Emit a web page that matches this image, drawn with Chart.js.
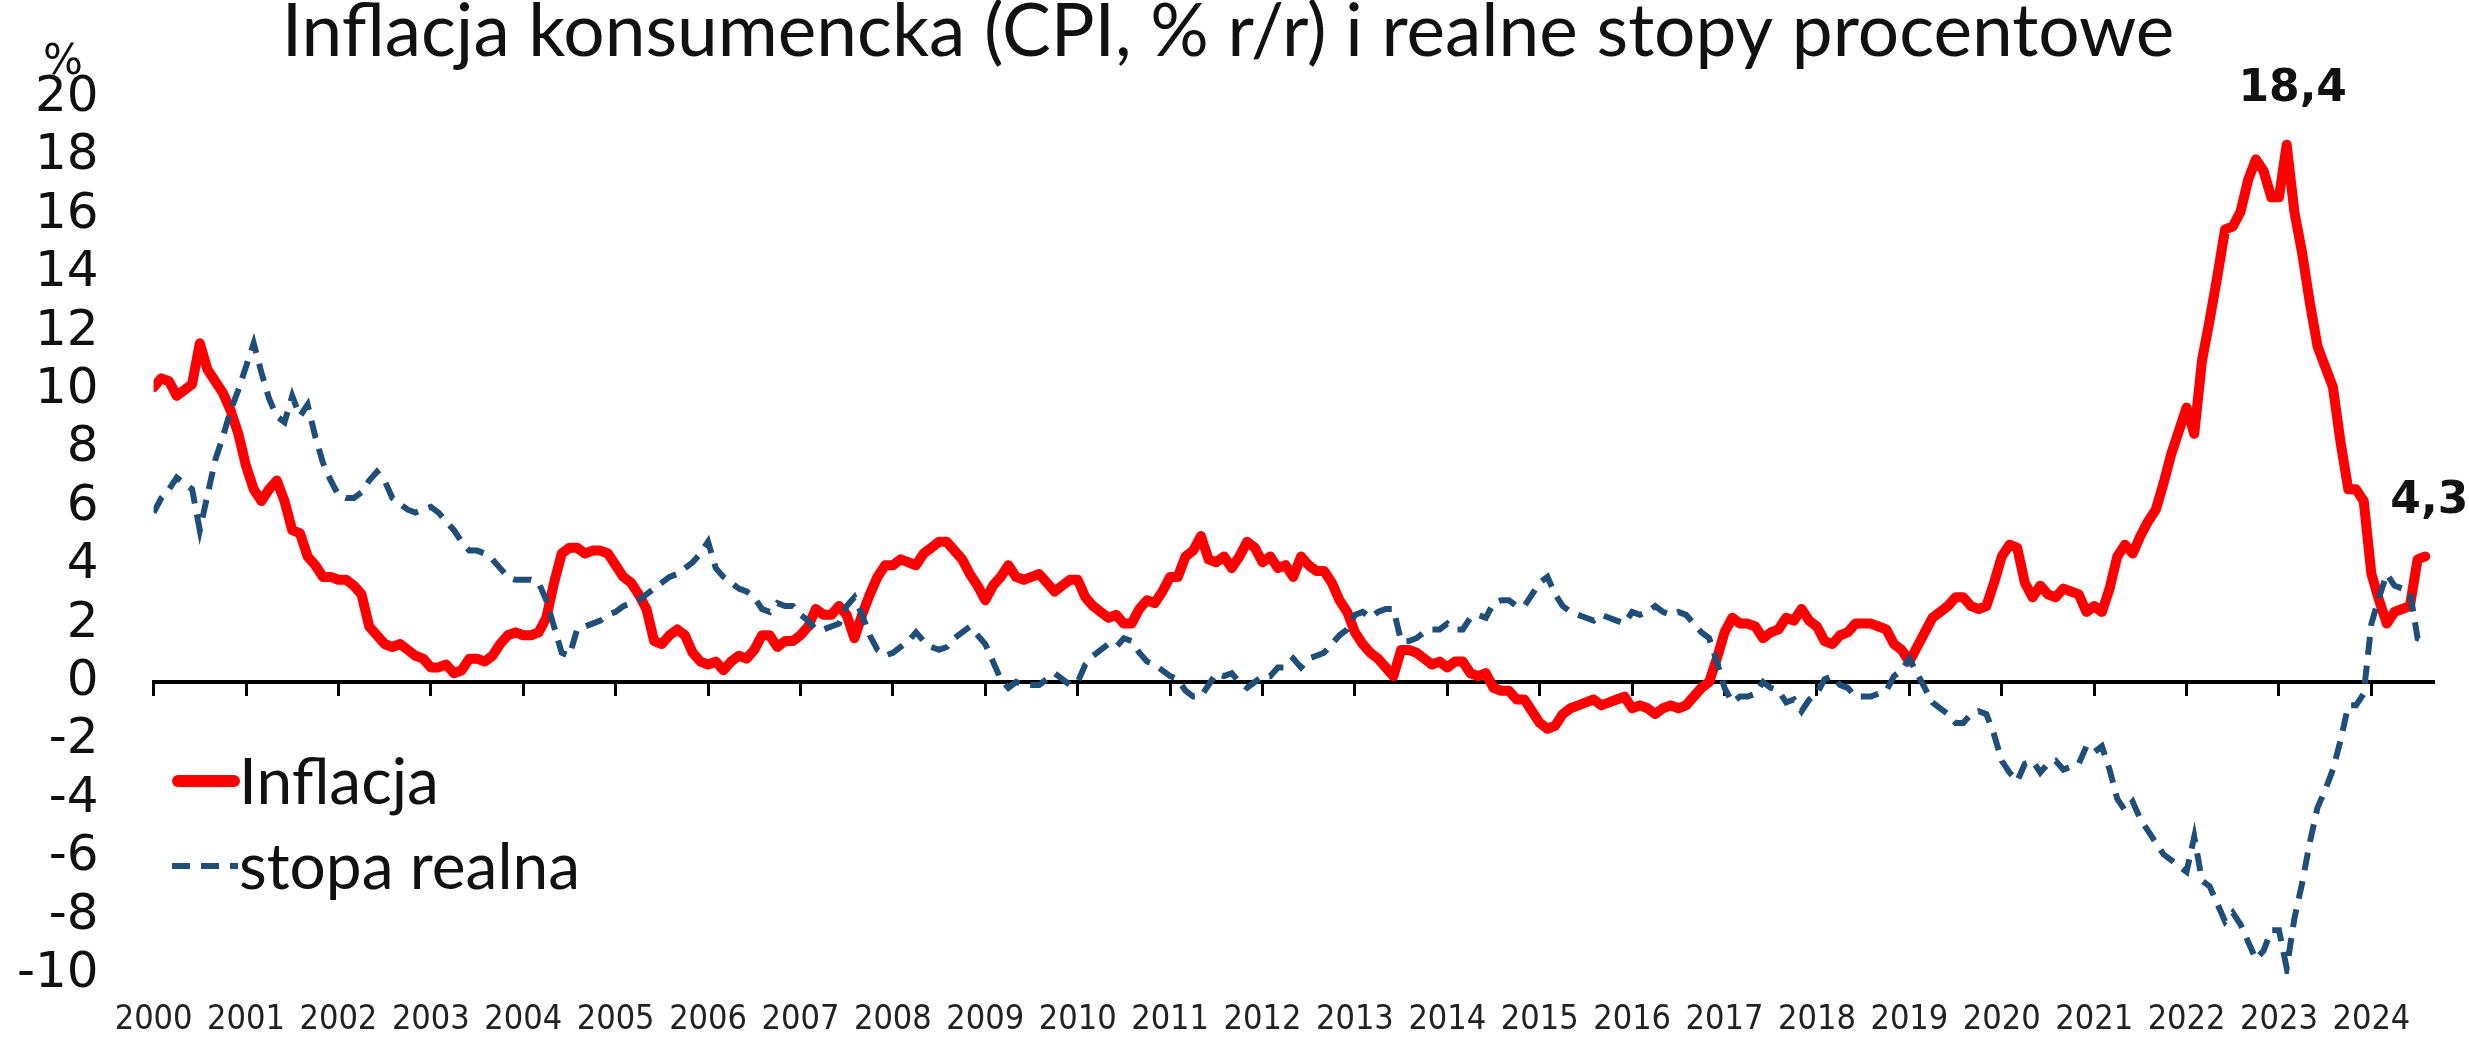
<!DOCTYPE html>
<html>
<head>
<meta charset="utf-8">
<script src="https://cdn.jsdelivr.net/npm/chart.js@4.4.1/dist/chart.umd.min.js"></script>
<style>
html,body{margin:0;padding:0;background:#fff;overflow:hidden}
canvas{display:block}
</style>
</head>
<body>
<canvas id="c" width="2469" height="1059"></canvas>
<script>
// ---------- texts ----------
const titleText = 'Inflacja konsumencka (CPI, % r/r) i realne stopy procentowe';
const unitLabel = '%';
const seriesNames = ['Inflacja', 'stopa realna'];

// ---------- categories (monthly, starting January 2000) ----------
const startYear = 2000;
const yearTicks = [2000, 2001, 2002, 2003, 2004, 2005, 2006, 2007, 2008, 2009, 2010, 2011, 2012,
                   2013, 2014, 2015, 2016, 2017, 2018, 2019, 2020, 2021, 2022, 2023, 2024];
const yTicks = [-10, -8, -6, -4, -2, 0, 2, 4, 6, 8, 10, 12, 14, 16, 18, 20];

// ---------- series: CPI y/y, % ----------
const cpi = [
  10.1, 10.4, 10.3, 9.8, 10.0, 10.2, 11.6, 10.7, 10.3, 9.9, 9.3, 8.5,   // 2000
  7.4, 6.6, 6.2, 6.6, 6.9, 6.2, 5.2, 5.1, 4.3, 4.0, 3.6, 3.6,           // 2001
  3.5, 3.5, 3.3, 3.0, 1.9, 1.6, 1.3, 1.2, 1.3, 1.1, 0.9, 0.8,           // 2002
  0.5, 0.5, 0.6, 0.3, 0.4, 0.8, 0.8, 0.7, 0.9, 1.3, 1.6, 1.7,           // 2003
  1.6, 1.6, 1.7, 2.2, 3.4, 4.4, 4.6, 4.6, 4.4, 4.5, 4.5, 4.4,           // 2004
  4.0, 3.6, 3.4, 3.0, 2.5, 1.4, 1.3, 1.6, 1.8, 1.6, 1.0, 0.7,           // 2005
  0.6, 0.7, 0.4, 0.7, 0.9, 0.8, 1.1, 1.6, 1.6, 1.2, 1.4, 1.4,           // 2006
  1.6, 1.9, 2.5, 2.3, 2.3, 2.6, 2.3, 1.5, 2.3, 3.0, 3.6, 4.0,           // 2007
  4.0, 4.2, 4.1, 4.0, 4.4, 4.6, 4.8, 4.8, 4.5, 4.2, 3.7, 3.3,           // 2008
  2.8, 3.3, 3.6, 4.0, 3.6, 3.5, 3.6, 3.7, 3.4, 3.1, 3.3, 3.5,           // 2009
  3.5, 2.9, 2.6, 2.4, 2.2, 2.3, 2.0, 2.0, 2.5, 2.8, 2.7, 3.1,           // 2010
  3.6, 3.6, 4.3, 4.5, 5.0, 4.2, 4.1, 4.3, 3.9, 4.3, 4.8, 4.6,           // 2011
  4.1, 4.3, 3.9, 4.0, 3.6, 4.3, 4.0, 3.8, 3.8, 3.4, 2.8, 2.4,           // 2012
  1.7, 1.3, 1.0, 0.8, 0.5, 0.2, 1.1, 1.1, 1.0, 0.8, 0.6, 0.7,           // 2013
  0.5, 0.7, 0.7, 0.3, 0.2, 0.3, -0.2, -0.3, -0.3, -0.6, -0.6, -1.0,     // 2014
  -1.4, -1.6, -1.5, -1.1, -0.9, -0.8, -0.7, -0.6, -0.8, -0.7, -0.6, -0.5, // 2015
  -0.9, -0.8, -0.9, -1.1, -0.9, -0.8, -0.9, -0.8, -0.5, -0.2, 0.0, 0.8, // 2016
  1.7, 2.2, 2.0, 2.0, 1.9, 1.5, 1.7, 1.8, 2.2, 2.1, 2.5, 2.1,           // 2017
  1.9, 1.4, 1.3, 1.6, 1.7, 2.0, 2.0, 2.0, 1.9, 1.8, 1.3, 1.1,           // 2018
  0.7, 1.2, 1.7, 2.2, 2.4, 2.6, 2.9, 2.9, 2.6, 2.5, 2.6, 3.4,           // 2019
  4.3, 4.7, 4.6, 3.4, 2.9, 3.3, 3.0, 2.9, 3.2, 3.1, 3.0, 2.4,           // 2020
  2.6, 2.4, 3.2, 4.3, 4.7, 4.4, 5.0, 5.5, 5.9, 6.8, 7.8, 8.6,           // 2021
  9.4, 8.5, 11.0, 12.4, 13.9, 15.5, 15.6, 16.1, 17.2, 17.9, 17.5, 16.6, // 2022
  16.6, 18.4, 16.1, 14.7, 13.0, 11.5, 10.8, 10.1, 8.2, 6.6, 6.6, 6.2,   // 2023
  3.7, 2.8, 2.0, 2.4, 2.5, 2.6, 4.2, 4.3                                // 2024
];

// ---------- series: real interest rate, % ----------
const realRate = [
  5.8, 6.3, 6.6, 7.0, 6.8, 6.6, 5.2, 6.4, 7.6, 8.4, 9.3, 10.0,          // 2000
  10.8, 11.6, 10.6, 9.7, 9.1, 8.9, 9.8, 9.1, 9.5, 8.4, 7.5, 6.9,        // 2001
  6.4, 6.3, 6.3, 6.5, 6.9, 7.2, 6.9, 6.3, 6.1, 5.9, 5.8, 5.9,           // 2002
  6.0, 5.8, 5.5, 5.2, 4.8, 4.5, 4.5, 4.4, 4.2, 3.9, 3.6, 3.5,           // 2003
  3.5, 3.5, 3.4, 2.8, 1.9, 1.0, 0.9, 1.8, 1.9, 2.0, 2.1, 2.3,           // 2004
  2.4, 2.6, 2.7, 2.8, 3.0, 3.2, 3.4, 3.6, 3.7, 3.9, 4.1, 4.4,           // 2005
  4.8, 3.9, 3.6, 3.4, 3.2, 3.1, 2.9, 2.5, 2.4, 2.7, 2.6, 2.6,           // 2006
  2.3, 2.1, 1.8, 1.8, 1.9, 2.0, 2.6, 2.9, 2.3, 1.6, 1.1, 0.9,           // 2007
  1.0, 1.2, 1.4, 1.7, 1.4, 1.2, 1.1, 1.2, 1.5, 1.7, 1.9, 1.6,           // 2008
  1.3, 0.7, 0.1, -0.2, 0.0, -0.1, -0.1, -0.1, 0.1, 0.3, 0.1, -0.1,      // 2009
  0.0, 0.6, 0.9, 1.1, 1.3, 1.2, 1.5, 1.4, 1.0, 0.7, 0.6, 0.4,           // 2010
  0.2, 0.1, -0.3, -0.5, -0.5, -0.1, 0.3, 0.2, 0.3, 0.0, -0.2, 0.0,      // 2011
  0.2, 0.2, 0.5, 0.5, 0.8, 0.5, 0.8, 0.9, 1.0, 1.3, 1.6, 1.8,           // 2012
  2.3, 2.4, 2.2, 2.4, 2.5, 2.5, 1.4, 1.4, 1.5, 1.7, 1.8, 1.8,           // 2013
  2.0, 1.8, 1.8, 2.2, 2.3, 2.2, 2.7, 2.8, 2.8, 2.6, 2.6, 3.0,           // 2014
  3.4, 3.6, 3.0, 2.6, 2.4, 2.3, 2.2, 2.1, 2.3, 2.2, 2.1, 2.0,           // 2015
  2.4, 2.3, 2.4, 2.6, 2.4, 2.3, 2.4, 2.3, 2.0, 1.7, 1.5, 0.7,           // 2016
  -0.2, -0.7, -0.5, -0.5, -0.4, 0.0, -0.2, -0.3, -0.7, -0.6, -1.0, -0.6, // 2017
  -0.4, 0.1, 0.2, -0.1, -0.2, -0.5, -0.5, -0.5, -0.4, -0.3, 0.2, 0.4,   // 2018
  0.8, 0.3, -0.2, -0.7, -0.9, -1.1, -1.4, -1.4, -1.1, -1.0, -1.1, -1.8, // 2019
  -2.7, -3.1, -3.4, -2.8, -2.7, -3.1, -2.8, -2.7, -3.0, -2.9, -2.8, -2.2, // 2020
  -2.4, -2.2, -3.0, -4.0, -4.4, -4.1, -4.7, -5.1, -5.5, -5.9, -6.1, -6.3, // 2021
  -6.5, -5.3, -6.8, -7.0, -7.6, -8.2, -7.9, -8.3, -8.9, -9.5, -9.2, -8.5, // 2022
  -8.5, -9.8, -8.1, -6.9, -5.5, -4.3, -3.7, -3.0, -2.0, -0.8, -0.8, -0.4, // 2023
  2.0, 2.9, 3.7, 3.3, 3.2, 3.1, 1.5, 1.4                                 // 2024
];

// ---------- styling ----------
const RED = '#FF0000';
const BLUE = '#1F4E79';
const TEXT = '#111111';
const CALIBRI_LIKE = 'Lato, "Noto Sans", sans-serif';
const NARROW = '"Liberation Sans Narrow", "DejaVu Sans Condensed", Lato, sans-serif';
const VERDANA_LIKE = '"DejaVu Sans", Verdana, sans-serif';

const toX = i => startYear + i / 12;
const cpiPts = cpi.map((v, i) => ({ x: toX(i), y: v }));
const realPts = realRate.map((v, i) => ({ x: toX(i), y: v }));
const xMin = startYear;
const xMax = startYear + (cpi.length) / 12;
const fmt = v => v.toFixed(1).replace('.', ',');

const yearTickBuilder = s => { s.ticks = yearTicks.map(v => ({ value: v })); };

const overlay = {
  id: 'overlay',
  afterDraw(chart) {
    const { ctx, scales } = chart;
    const xs = scales.x, ys = scales.y;
    ctx.save();
    // title
    ctx.fillStyle = TEXT;
    ctx.textAlign = 'center';
    ctx.textBaseline = 'alphabetic';
    ctx.font = '73px ' + CALIBRI_LIKE;
    ctx.fillText(titleText, 1228, 56);
    // unit label above the y axis
    ctx.font = '42px ' + VERDANA_LIKE;
    ctx.fillText(unitLabel, 63, 74);

    // value annotations: peak and last value of CPI
    const peakIdx = cpi.indexOf(Math.max(...cpi));
    const lastIdx = cpi.length - 1;
    ctx.font = 'bold 44px ' + VERDANA_LIKE;
    ctx.textBaseline = 'middle';
    [[peakIdx, 6], [lastIdx, 4]].forEach(([i, dx]) => {
      const px = xs.getPixelForValue(toX(i));
      const py = ys.getPixelForValue(cpi[i]);
      ctx.fillText(fmt(cpi[i]), px + dx, py - 55);
    });

    // legend inside the plot
    const rows = [781, 866];
    chart.data.datasets.forEach((ds, k) => {
      const ry = rows[k];
      ctx.save();
      ctx.strokeStyle = ds.borderColor;
      ctx.lineWidth = ds.borderWidth + (k === 0 ? 2 : 0);
      ctx.setLineDash(ds.borderDash || []);
      ctx.lineCap = k === 0 ? 'round' : 'butt';
      ctx.beginPath();
      ctx.moveTo(k === 0 ? 178 : 172, ry);
      ctx.lineTo(k === 0 ? 234 : 238, ry);
      ctx.stroke();
      ctx.restore();
      ctx.fillStyle = TEXT;
      ctx.textAlign = 'left';
      ctx.textBaseline = 'middle';
      ctx.font = '64px ' + CALIBRI_LIKE;
      ctx.fillText(ds.label, 239, ry + 2);
    });
    ctx.restore();
  }
};

new Chart(document.getElementById('c').getContext('2d'), {
  type: 'line',
  data: {
    datasets: [
      { label: seriesNames[0], data: cpiPts, borderColor: RED, borderWidth: 10,
        pointRadius: 0, tension: 0, borderJoinStyle: 'round', borderCapStyle: 'round', order: 1 },
      { label: seriesNames[1], data: realPts, borderColor: BLUE, borderWidth: 6,
        borderDash: [18, 11], pointRadius: 0, tension: 0, order: 0 }
    ]
  },
  options: {
    responsive: false,
    animation: false,
    devicePixelRatio: 1,
    layout: { padding: { top: 98, right: 36, bottom: 0, left: 0 } },
    plugins: { legend: { display: false }, title: { display: false }, tooltip: { enabled: false } },
    scales: {
      x: {
        type: 'linear', position: 'bottom', min: xMin, max: xMax,
        afterBuildTicks: yearTickBuilder,
        afterFit: s => { s.height = 67; },
        grid: { display: false, drawTicks: false },
        border: { display: false },
        ticks: { autoSkip: false, maxRotation: 0, padding: 26, color: '#222',
                 font: { family: NARROW, size: 34 }, callback: v => String(v) }
      },
      x0: {
        type: 'linear', position: { y: 0 }, min: xMin, max: xMax,
        afterBuildTicks: yearTickBuilder,
        grid: { display: true, drawOnChartArea: false, drawTicks: true, tickLength: 12,
                color: '#000', lineWidth: 3, tickColor: '#000', tickWidth: 3 },
        border: { display: true, color: '#000', width: 4 },
        ticks: { display: false }
      },
      y: {
        type: 'linear', position: 'left', min: -10, max: 20,
        afterBuildTicks: s => { s.ticks = yTicks.map(v => ({ value: v })); },
        afterFit: s => { s.width = 153.6; },
        grid: { display: false, drawTicks: false },
        border: { display: false },
        ticks: { autoSkip: false, padding: 55, color: '#111',
                 font: { family: VERDANA_LIKE, size: 50 } }
      }
    }
  },
  plugins: [overlay]
});
</script>
</body>
</html>
